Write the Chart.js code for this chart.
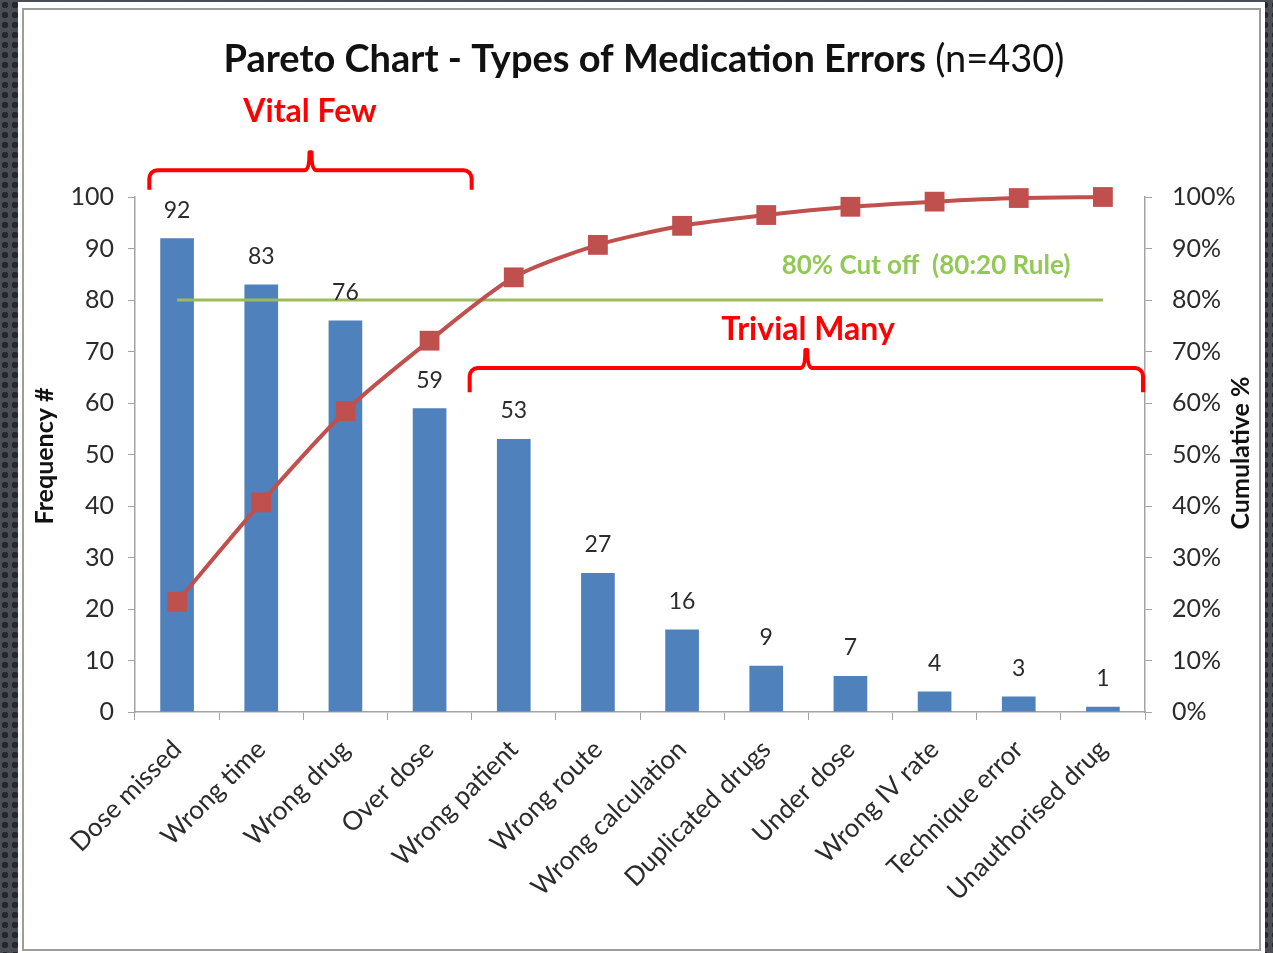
<!DOCTYPE html>
<html>
<head>
<meta charset="utf-8">
<script src="https://cdn.jsdelivr.net/npm/chart.js@4.4.1/dist/chart.umd.min.js"></script>
<style>
  html, body { margin: 0; padding: 0; }
  body {
    width: 1273px; height: 953px; overflow: hidden; position: relative;
    background-color: #4a4f55;
    background-image: radial-gradient(circle, #25282c 3px, transparent 3.6px);
    background-size: 10px 10px;
  }
  #panel { position: absolute; left: 18px; top: 2px; width: 1247px; height: 951px; background: #fff; }
  #frame { position: absolute; left: 4px; top: 6px; right: 4px; bottom: 2px; border: 2px solid #9c9c9c; }
  #chart { position: absolute; left: 0; top: 0; }
</style>
</head>
<body>
<div id="panel"><div id="frame"></div></div>
<canvas id="chart" width="1273" height="953"></canvas>
<script>
const categories = [
  "Dose missed", "Wrong time", "Wrong drug", "Over dose", "Wrong patient", "Wrong route",
  "Wrong calculation", "Duplicated drugs", "Under dose", "Wrong IV rate", "Technique error", "Unauthorised drug"
];
const frequency = [92, 83, 76, 59, 53, 27, 16, 9, 7, 4, 3, 1];
const cumulativePct = [21.4, 40.7, 58.4, 72.1, 84.4, 90.7, 94.4, 96.5, 98.1, 99.1, 99.8, 100];
const cutOff = [80, 80, 80, 80, 80, 80, 80, 80, 80, 80, 80, 80];

const FONT = "Lato, 'Noto Sans', sans-serif";
const AXIS_GREY = "#a3a3a3";
const TEXT = "#2b2b2b";

const overlay = {
  id: "overlay",
  afterDatasetsDraw(chart) {
    const { ctx, scales: { x, y } } = chart;
    ctx.save();

    // value labels above the bars
    const bars = chart.getDatasetMeta(0);
    ctx.font = `23px ${FONT}`;
    ctx.fillStyle = TEXT;
    ctx.textAlign = "center";
    ctx.textBaseline = "middle";
    bars.data.forEach((bar, i) => {
      ctx.fillText(String(frequency[i]), bar.x, bar.y - 28);
    });

    // chart title, bold part + normal part
    const bold = "Pareto Chart - Types of Medication Errors ";
    const normal = "(n=430)";
    ctx.textAlign = "left";
    ctx.textBaseline = "alphabetic";
    ctx.font = `bold 38px ${FONT}`;
    const wb = ctx.measureText(bold).width;
    ctx.font = `38px ${FONT}`;
    const wn = ctx.measureText(normal).width;
    const tx = 644 - (wb + wn) / 2;
    ctx.fillStyle = "#111";
    ctx.font = `bold 38px ${FONT}`;
    ctx.fillText(bold, tx, 72);
    ctx.font = `38px ${FONT}`;
    ctx.fillText(normal, tx + wb, 72);

    // axis titles
    ctx.font = `bold 25px ${FONT}`;
    ctx.fillStyle = "#111";
    ctx.textAlign = "center";
    ctx.textBaseline = "middle";
    [[45, 456], [1241, 453]].forEach(([px, py], k) => {
      ctx.save();
      ctx.translate(px, py);
      ctx.rotate(-Math.PI / 2);
      ctx.fillText(k === 0 ? "Frequency #" : "Cumulative %", 0, 0);
      ctx.restore();
    });

    // brackets
    const step = x.getPixelForValue(1) - x.getPixelForValue(0);
    const split = (x.getPixelForValue(3) + x.getPixelForValue(4)) / 2;
    const bracket = (x1, x2, vTop, vEnd, vTip) => {
      const yt = y.getPixelForValue(vTop);
      const ye = y.getPixelForValue(vEnd);
      const yp = y.getPixelForValue(vTip);
      const xm = (x1 + x2) / 2;
      const r = 8;
      ctx.beginPath();
      ctx.moveTo(x1, ye);
      ctx.arcTo(x1, yt, x1 + r, yt, r);
      ctx.lineTo(xm - 6, yt);
      ctx.quadraticCurveTo(xm - 1, yt, xm - 1, yp);
      ctx.lineTo(xm + 1, yp);
      ctx.quadraticCurveTo(xm + 1, yt, xm + 6, yt);
      ctx.arcTo(x2, yt, x2, ye, r);
      ctx.lineTo(x2, ye);
      ctx.stroke();
    };
    ctx.strokeStyle = "#ff0000";
    ctx.lineWidth = 4;
    ctx.lineJoin = "round";
    bracket(x.getPixelForValue(0) - 0.33 * step, split, 105.2, 101.4, 108.7);
    bracket(split - 2, x.right - 2, 66.8, 62.1, 70.3);

    // annotation texts
    ctx.font = `bold 32px ${FONT}`;
    ctx.fillStyle = "#ff0000";
    ctx.fillText("Vital Few", 310, y.getPixelForValue(116.5));
    ctx.fillText("Trivial Many", 808, y.getPixelForValue(74.2));
    ctx.font = `bold 26px ${FONT}`;
    ctx.fillStyle = "#92c955";
    ctx.fillText("80% Cut off  (80:20 Rule)", 926, y.getPixelForValue(86.6));

    ctx.restore();
  }
};

new Chart(document.getElementById("chart").getContext("2d"), {
  data: {
    labels: categories,
    datasets: [
      {
        type: "bar",
        label: "Frequency",
        data: frequency,
        backgroundColor: "#4f81bd",
        barPercentage: 0.4,
        categoryPercentage: 1,
        yAxisID: "y",
        order: 3
      },
      {
        type: "line",
        label: "Cumulative %",
        data: cumulativePct,
        borderColor: "#c0504d",
        backgroundColor: "#c0504d",
        borderWidth: 4,
        pointStyle: "rect",
        pointRadius: 14,
        pointBorderWidth: 0,
        tension: 0.25,
        clip: false,
        yAxisID: "y2",
        order: 1
      },
      {
        type: "line",
        label: "80% cut off",
        data: cutOff,
        borderColor: "#9bbb59",
        borderWidth: 3,
        pointRadius: 0,
        yAxisID: "y2",
        order: 2
      }
    ]
  },
  options: {
    responsive: false,
    animation: false,
    layout: { padding: { top: 197, left: 0, right: 0, bottom: 0 } },
    plugins: {
      legend: { display: false },
      title: { display: false },
      tooltip: { enabled: false }
    },
    scales: {
      x: {
        offset: true,
        grid: { offset: true, drawOnChartArea: false, color: AXIS_GREY, tickLength: 8 },
        border: { color: AXIS_GREY, width: 1.5 },
        ticks: {
          autoSkip: false,
          maxRotation: 45,
          minRotation: 45,
          padding: 14,
          color: TEXT,
          font: { family: FONT, size: 26 }
        },
        afterFit: (scale) => { scale.height = 241; }
      },
      y: {
        position: "left",
        min: 0,
        max: 100,
        ticks: { stepSize: 10, padding: 14, color: TEXT, font: { family: FONT, size: 25 } },
        grid: { drawOnChartArea: false, color: AXIS_GREY, tickLength: 7 },
        border: { color: AXIS_GREY, width: 1.5 },
        afterFit: (scale) => { scale.width = 135; }
      },
      y2: {
        position: "right",
        min: 0,
        max: 100,
        ticks: {
          stepSize: 10,
          padding: 20,
          color: TEXT,
          font: { family: FONT, size: 25 },
          callback: (v) => v + "%"
        },
        grid: { drawOnChartArea: false, color: AXIS_GREY, tickLength: 7 },
        border: { color: AXIS_GREY, width: 1.5 },
        afterFit: (scale) => { scale.width = 128; }
      }
    }
  },
  plugins: [overlay]
});
</script>
</body>
</html>
